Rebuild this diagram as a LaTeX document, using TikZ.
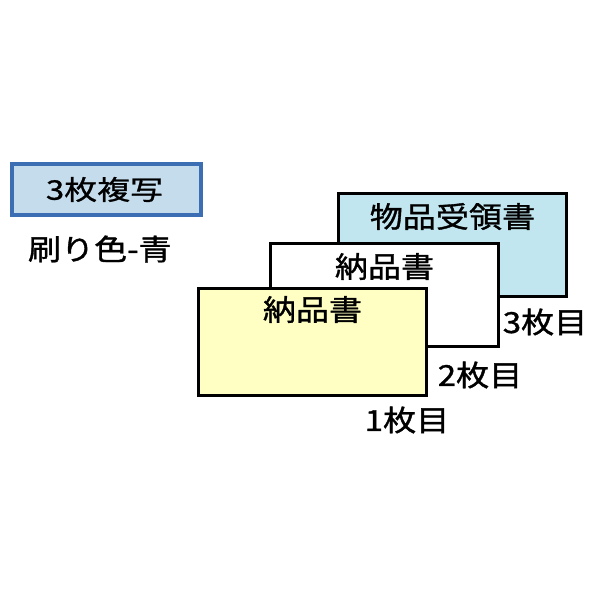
\documentclass[tikz,border=0pt]{standalone}
\usepackage{fontspec}
\newfontfamily\jpfont[FakeStretch=1.14, FakeBold=1.2]{Noto Sans CJK JP}
\newfontfamily\tagfont[FakeStretch=1.22, FakeBold=1]{Noto Sans CJK JP}
\usetikzlibrary{positioning}
\definecolor{boxblue}{HTML}{3C6EB4}
\definecolor{boxfill}{HTML}{C4DCEC}
\definecolor{sheetblue}{HTML}{C2E6F0}
\definecolor{sheetyellow}{HTML}{FFFFC4}

\begin{document}
\begin{tikzpicture}[x=1pt, y=-1pt, inner sep=0pt, outer sep=0pt,
		sheet/.style={draw=black, line width=3pt, anchor=north west, minimum width=228pt, minimum height=103pt},
		title/.style={font=\jpfont\fontsize{29}{29}\selectfont},
		count/.style={font=\jpfont\fontsize{29}{29}\selectfont}]
	\useasboundingbox (0,0) rectangle (598,598);

	% copy count tag
	\node[draw=boxblue, fill=boxfill, line width=4pt, anchor=north west,
		minimum width=189pt, minimum height=51pt] (tag) at (12,164) {};
	\node[font=\tagfont\fontsize{27}{27}\selectfont] (tag-t) at ([xshift=-2pt]tag.center) {3枚複写};
	\node[font=\jpfont\fontsize{29}{29}\selectfont, anchor=west] (ink) at (28,249) {刷り色-青};

	% sheets, back to front
	\node[sheet, fill=sheetblue] (s3) at (338.5,193.5) {};
	\node[sheet, fill=white] (s2) at (270.5,243.5) {};
	\node[sheet, fill=sheetyellow, minimum height=107pt] (s1) at (198.5,288.5) {};

	\node[title] (s3-t) at ([yshift=-23pt]s3.north) {物品受領書};
	\node[title] (s2-t) at ([yshift=-23pt]s2.north) {納品書};
	\node[title] (s1-t) at ([yshift=-21pt]s1.north) {納品書};

	\node[count] (c3) at (545,322) {3枚目};
	\node[count] (c2) at (480,375) {2枚目};
	\node[count] (c1) at (407,420) {1枚目};
\end{tikzpicture}
\end{document}
